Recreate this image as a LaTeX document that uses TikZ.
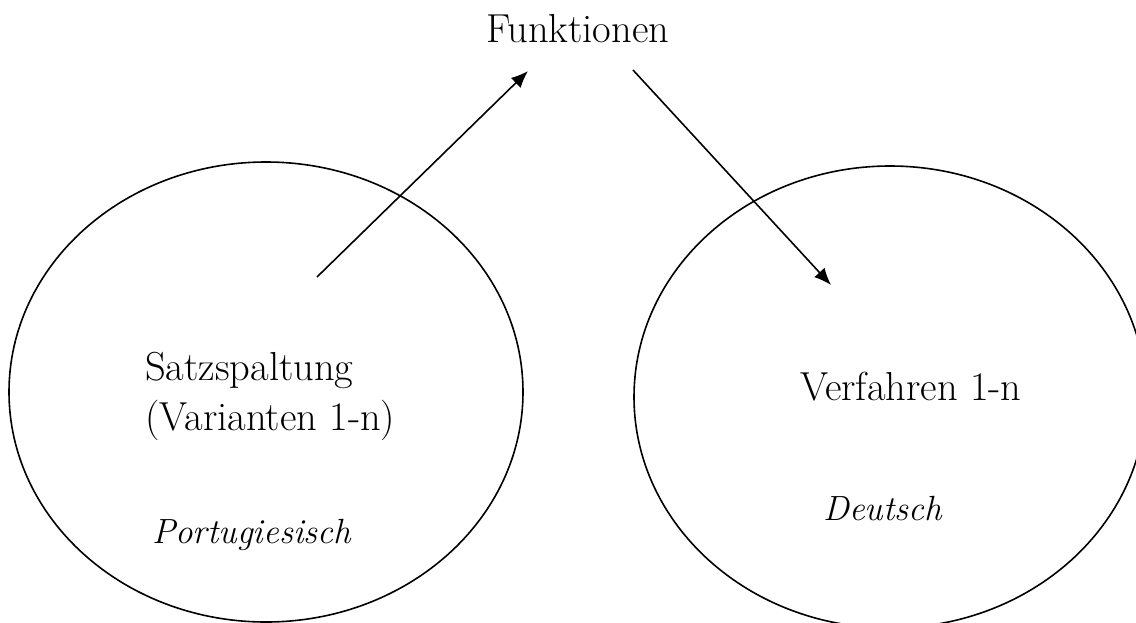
\documentclass[tikz,border=0pt]{standalone}
\usetikzlibrary{shapes.geometric,arrows.meta}

\begin{document}
\begin{tikzpicture}[x=1pt,y=-1pt]
% estilos de linea y texto
\tikzstyle{ovalo} = [ellipse,draw=black,line width=1.6pt,inner sep=0pt]
\tikzstyle{flecha} = [line width=1.6pt,-{Latex[length=17pt,width=14pt]}]
\tikzstyle{rotulo} = [inner sep=0pt,anchor=base west,align=left,
  font=\fontsize{40.5}{50}\selectfont]
\tikzstyle{idioma} = [rotulo,font=\fontsize{35}{50}\selectfont\itshape]
% --------------------------------------
\useasboundingbox (0,0) rectangle (1136,622);
% --------------------------------------
% dibujar conjuntos
\node [ovalo,minimum width=514pt,minimum height=460pt] (izq) at (266,392) {};
\node [ovalo,minimum width=512pt,minimum height=462pt] (der) at (890,397) {};
% dibujar rotulos
\node [rotulo] (funk) at (486,42) {Funktionen};
% (el ancla base va en la ultima linea)
\node [rotulo] (satz) at (145,430) {Satzspaltung\\(Varianten 1-n)};
\node [idioma] (port) at (152,543) {Portugiesisch};
\node [rotulo] (verf) at (800,400) {Verfahren 1-n};
\node [idioma] (deut) at (823,520) {Deutsch};
% dibujar flechas
\coordinate (a1) at (317,277);
\coordinate (b1) at (528,71);
\coordinate (a2) at (633,70);
\coordinate (b2) at (831,285);
\draw [flecha] (a1) -- (b1);
\draw [flecha] (a2) -- (b2);
% --------------------------------------
\end{tikzpicture}
\end{document}
